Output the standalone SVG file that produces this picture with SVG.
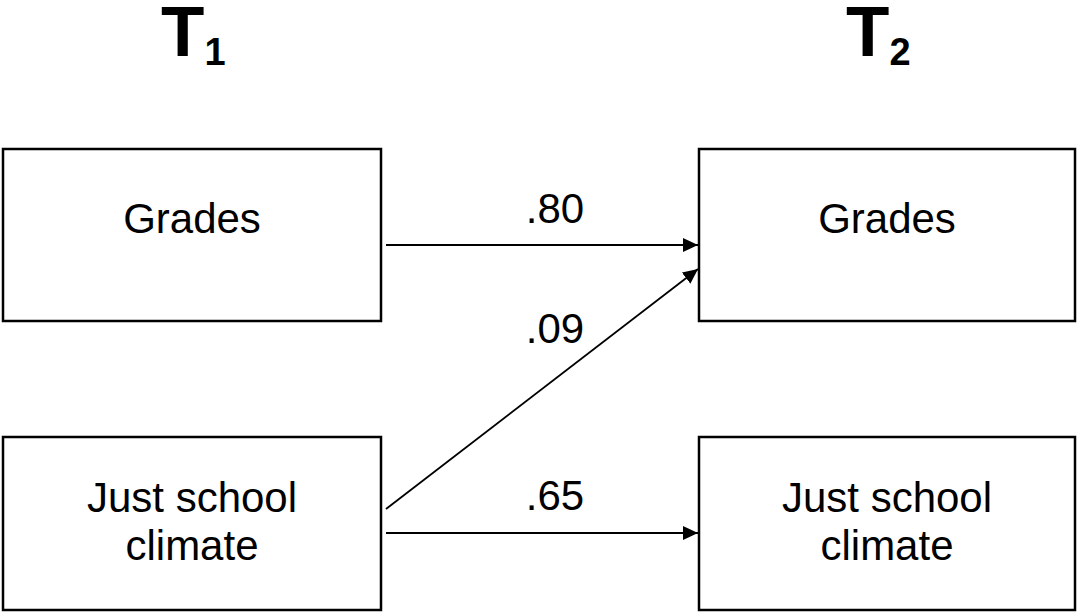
<svg xmlns="http://www.w3.org/2000/svg" width="1077" height="612" viewBox="0 0 1077 612">
<defs>
<style>
.box{fill:#fff;stroke:#000;stroke-width:2.5}
.lbl{font-family:"Liberation Sans",Arial,sans-serif;font-size:42px;fill:#000;text-anchor:middle}
.title{font-family:"Liberation Sans",Arial,sans-serif;font-weight:bold;fill:#000}
.edge{stroke:#000;stroke-width:1.8;fill:none}
</style>
<marker id="arr" markerUnits="userSpaceOnUse" markerWidth="16" markerHeight="14" refX="15" refY="7" orient="auto">
<path d="M0,0 L15,7 L0,14 Z" fill="#000"/>
</marker>
</defs>
<rect width="1077" height="612" fill="#fff"/>
<g id="title-t1"><text class="title" x="161" y="56" font-size="71">T<tspan font-size="38" y="65">1</tspan></text></g>
<g id="title-t2"><text class="title" x="846" y="56" font-size="71">T<tspan font-size="38" y="65">2</tspan></text></g>
<g id="node-grades-t1"><rect class="box" x="3" y="149" width="378" height="172"/><text class="lbl" x="192" y="233">Grades</text></g>
<g id="node-climate-t1"><rect class="box" x="3" y="437" width="378" height="173"/><text class="lbl" x="192" y="512">Just school</text><text class="lbl" x="192" y="560">climate</text></g>
<g id="node-grades-t2"><rect class="box" x="699" y="149" width="376" height="172"/><text class="lbl" x="887" y="233">Grades</text></g>
<g id="node-climate-t2"><rect class="box" x="699" y="437" width="376" height="173"/><text class="lbl" x="887" y="512">Just school</text><text class="lbl" x="887" y="560">climate</text></g>
<g id="connectors">
<line class="edge" x1="386" y1="245" x2="698" y2="245" marker-end="url(#arr)"/>
<line class="edge" x1="386" y1="509" x2="698" y2="269" marker-end="url(#arr)"/>
<line class="edge" x1="386" y1="533" x2="698" y2="533" marker-end="url(#arr)"/>
<text class="lbl" x="555" y="223">.80</text>
<text class="lbl" x="555" y="343">.09</text>
<text class="lbl" x="555" y="510">.65</text>
</g>
</svg>
